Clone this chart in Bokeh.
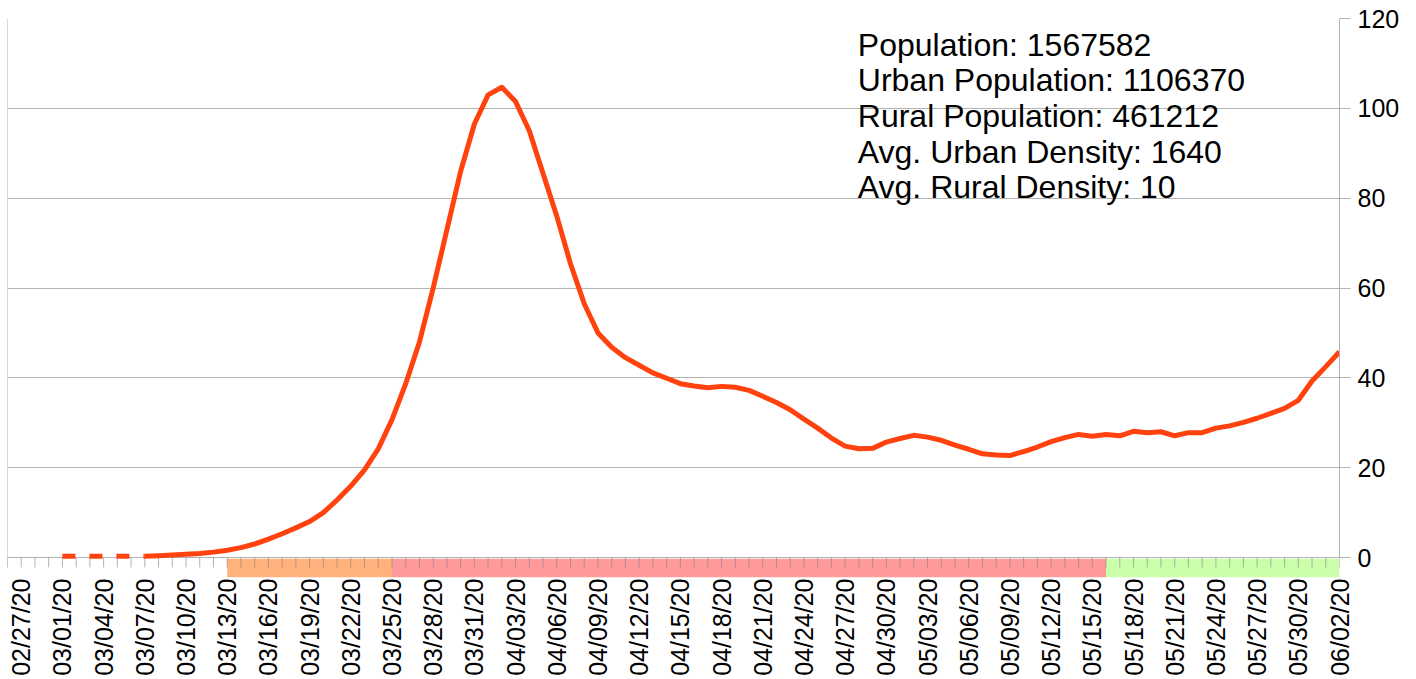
import numpy as np
import pandas as pd
from bokeh.plotting import figure
from bokeh.models import Range1d, FixedTicker, DatetimeTickFormatter, Label
from bokeh.embed import file_html
from bokeh.resources import INLINE

# ---------------- data ----------------
start_date = "2020-03-01"
cases = [
    0.3, 0.3, 0.3, 0.3, 0.3, 0.3, 0.3,           # 03/01 - 03/07
    0.4, 0.55, 0.7, 0.9, 1.2, 1.6, 2.2, 3.0, 4.1, 5.3, 6.6, 8.0,  # 03/08 - 03/19
    10.0, 12.8, 15.9, 19.5, 24.2, 30.7, 38.7, 48.0, 60.0, 73.0, 86.0, 96.5,  # 03/20 - 03/31
    103.0, 104.7, 101.5, 95.0, 85.5, 76.0, 65.4, 56.5, 50.0, 46.8, 44.5, 42.8,  # 04/01 - 04/12
    41.1, 39.9, 38.7, 38.2, 37.8, 38.1, 37.9, 37.2, 35.9, 34.5, 32.9, 30.8,  # 04/13 - 04/24
    28.8, 26.6, 24.8, 24.2, 24.3, 25.7,  # 04/25 - 04/30
    26.5, 27.2, 26.8, 26.1, 25.0, 24.1, 23.1, 22.8, 22.7, 23.6, 24.6, 25.8,  # 05/01 - 05/12
    26.7, 27.4, 27.0, 27.4, 27.1, 28.1, 27.8, 28.0, 27.1, 27.8, 27.8, 28.8,  # 05/13 - 05/24
    29.3, 30.1, 31.0, 32.1, 33.2, 35.0, 39.3, 42.5,  # 05/25 - 06/01
    45.8,  # 06/02
]
dashed_count = 7  # 03/01 .. 03/07 drawn dashed

axis_start = "2020-02-26"
axis_end = "2020-06-02"
label_start = "2020-02-27"
label_step_days = 3

phase_starts = ["2020-03-13", "2020-03-25", "2020-05-16"]
phase_ends = ["2020-03-25", "2020-05-16", "2020-06-02"]
phase_colors = ["#FFB27C", "#FF9A9A", "#CCFFAA"]

y_ticks = [0, 20, 40, 60, 80, 100, 120]

info_lines = [
    "Population: 1567582",
    "Urban Population: 1106370",
    "Rural Population: 461212",
    "Avg. Urban Density: 1640",
    "Avg. Rural Density: 10",
]

# ---------------- derived ----------------
dates = pd.date_range(start_date, periods=len(cases), freq="D")
all_days = pd.date_range(axis_start, axis_end, freq="D")
label_days = pd.date_range(label_start, axis_end, freq=f"{label_step_days}D")


def ms(ts):
    return pd.Timestamp(ts).value / 1e6


FONT = "Liberation Sans"
GRID = "#b3b3b3"
LINE = "#FF420E"
y_start = -4.45

p = figure(
    frame_width=1332, frame_height=559,
    x_axis_type="datetime",
    x_range=Range1d(ms(all_days[0]), ms(all_days[-1])),
    y_range=Range1d(y_start, 120),
    y_axis_location="right",
    output_backend="svg", toolbar_location=None,
    min_border_left=7, min_border_top=18, min_border_right=62, min_border_bottom=0,
    background_fill_color="white", border_fill_color="white",
)
p.outline_line_color = None

# grid
p.xgrid.grid_line_color = None
p.ygrid.ticker = FixedTicker(ticks=y_ticks)
p.ygrid.grid_line_color = GRID

# right y axis
ya = p.yaxis[0]
ya.ticker = FixedTicker(ticks=y_ticks)
ya.bounds = (0, 120)
ya.axis_line_color = GRID
ya.major_tick_line_color = GRID
ya.major_tick_out = 11
ya.major_tick_in = 0
ya.minor_tick_line_color = None
ya.major_label_standoff = 7
ya.major_label_text_font = FONT
ya.major_label_text_font_size = "25px"
ya.major_label_text_color = "black"

# x axis: labels only (axis line and ticks drawn at y = 0)
xa = p.xaxis[0]
xa.ticker = FixedTicker(ticks=[ms(d) for d in label_days], minor_ticks=[])
fmt = "%m/%d/%y"
xa.formatter = DatetimeTickFormatter(
    microseconds=fmt, milliseconds=fmt, seconds=fmt, minsec=fmt, minutes=fmt,
    hourmin=fmt, hours=fmt, days=fmt, months=fmt, years=fmt)
xa.major_label_orientation = np.pi / 2
xa.axis_line_color = None
xa.major_tick_line_color = None
xa.minor_tick_line_color = None
xa.major_tick_out = 0
xa.major_tick_in = 0
xa.major_label_standoff = 1
xa.major_label_text_font = FONT
xa.major_label_text_font_size = "25px"
xa.major_label_text_color = "black"

# phase bands under the axis
p.quad(left=[ms(d) for d in phase_starts], right=[ms(d) for d in phase_ends],
       top=-0.25, bottom=y_start, fill_color=phase_colors, line_color=None)

# daily ticks hanging below the zero line
day_ms = [ms(d) for d in all_days]
p.segment(x0=day_ms, y0=0, x1=day_ms, y1=-2.2, line_color="#808080",
          line_alpha=0.6, line_width=1)
# left border
p.segment(x0=[day_ms[0]], y0=[-2.2], x1=[day_ms[0]], y1=[120],
          line_color=GRID, line_width=1)

# series
date_ms = [ms(d) for d in dates]
p.line(date_ms[:dashed_count], cases[:dashed_count], line_color=LINE,
       line_width=5, line_dash="13 14", line_cap="butt")
p.line(date_ms[dashed_count - 1:], cases[dashed_count - 1:], line_color=LINE,
       line_width=5, line_join="round")

# info text
info_x = ms(pd.Timestamp(label_start) + pd.Timedelta(days=60.92))
for i, t in enumerate(info_lines):
    p.add_layout(Label(x=info_x, y=114.2 - i * 7.95, text=t,
                       text_font=FONT, text_font_size="32px",
                       text_color="black", text_baseline="alphabetic",
                       text_align="left"))

open("out.html", "w").write(file_html(p, INLINE))
